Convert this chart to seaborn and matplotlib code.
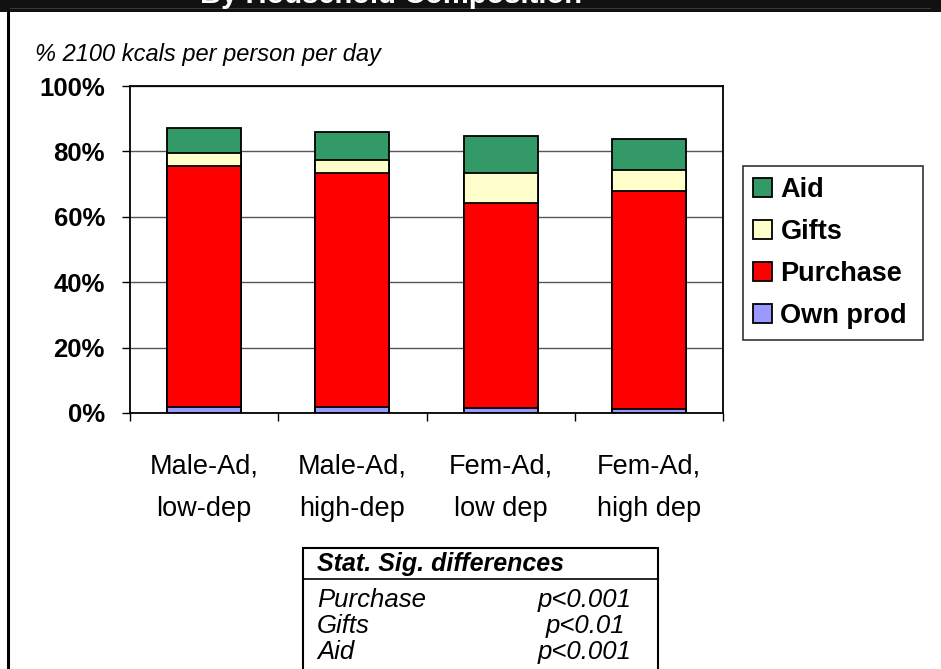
import numpy as np
import pandas as pd
import matplotlib
matplotlib.use('Agg')
import matplotlib.pyplot as plt
import seaborn as sns
from matplotlib.patches import Rectangle
from matplotlib.lines import Line2D

# 数据（从图中读取的估计值，单位 %）
groups = ['Male-Ad,\nlow-dep', 'Male-Ad,\nhigh-dep', 'Fem-Ad,\nlow dep', 'Fem-Ad,\nhigh dep']
own_prod = [1.9, 1.8, 1.4, 1.3]
purchase = [73.6, 71.5, 62.9, 66.6]
gifts = [4.1, 4.2, 9.1, 6.3]
aid = [7.7, 8.5, 11.2, 9.5]

series_names = ['Own prod', 'Purchase', 'Gifts', 'Aid']
series_colors = ['#9999FF', '#FF0000', '#FFFFCC', '#339966']
y_ticks = [0, 20, 40, 60, 80, 100]

sig_rows = ['Purchase', 'Gifts', 'Aid']
sig_p = ['p<0.001', 'p<0.01', 'p<0.001']

sns.set_style('white')
plt.rcParams['font.family'] = ['Liberation Sans', 'DejaVu Sans']
plt.rcParams['text.color'] = 'black'
plt.rcParams['xtick.color'] = 'black'
plt.rcParams['ytick.color'] = 'black'
plt.rcParams['axes.labelcolor'] = 'black'

W, H = 941, 669
def fx(x):
    return x / W
def fy(y):
    return 1 - y / H

fig = plt.figure(figsize=(W / 100, H / 100), dpi=100)
fig.patch.set_facecolor('white')
ax = fig.add_axes([fx(130), fy(413), (723 - 130) / W, (413 - 86) / H])

# 堆积柱：先画累计最高的，再依次往下覆盖
df = pd.DataFrame({'group': groups, 'Own prod': own_prod, 'Purchase': purchase,
                   'Gifts': gifts, 'Aid': aid})
cum = df[series_names].cumsum(axis=1)
for name, col in reversed(list(zip(series_names, series_colors))):
    sns.barplot(x=df['group'], y=cum[name], color=col, saturation=1, width=0.5,
                edgecolor='black', linewidth=1.3, errorbar=None, label=name, ax=ax)

handles, labels = ax.get_legend_handles_labels()
if ax.get_legend() is not None:
    ax.get_legend().remove()

ax.set_xlim(-0.5, len(groups) - 0.5)
ax.set_ylim(0, 100)
ax.set_xlabel('')
ax.set_ylabel('')
ax.set_yticks(y_ticks)
ax.set_yticklabels([f'{v}%' for v in y_ticks], fontsize=18.5, fontweight='bold')
ax.tick_params(axis='y', length=6, width=1, color='black', pad=12, left=True)
ax.set_xticks(range(len(groups)))
ax.set_xticklabels(groups, fontsize=19.5)
ax.set_xticks(np.arange(-0.5, len(groups)), minor=True)
ax.tick_params(axis='x', which='major', length=0, pad=29.5)
ax.tick_params(axis='x', which='minor', length=6, width=1, color='black', bottom=True)
for t in ax.get_xticklabels():
    t.set_linespacing(1.78)

ax.yaxis.grid(True, color='#555555', linewidth=1)
ax.set_axisbelow(True)
for s in ax.spines.values():
    s.set_visible(True)
    s.set_color('black')
    s.set_linewidth(1.3)

# 图例
leg = fig.legend(handles, labels, loc='center',
                 bbox_to_anchor=(fx(743), fy(339), 180 / W, 172 / H), mode='expand',
                 prop=dict(weight='bold', size=19.5), frameon=True, fancybox=False,
                 edgecolor='black', borderaxespad=0, handlelength=0.7, handleheight=0.7,
                 handletextpad=0.3, labelspacing=0.6, borderpad=0.38)
leg.get_frame().set_linewidth(1.2)

# 副标题
fig.text(fx(35), fy(55), '% 2100 kcals per person per day', fontsize=17,
         style='italic', va='center', ha='left')

# 顶部黑色标题栏（标题被截掉一部分）
fig.add_artist(Rectangle((0, fy(12)), 1, 12 / H, transform=fig.transFigure,
                         facecolor='#111111', edgecolor='none'))
fig.add_artist(Line2D([fx(10), fx(930)], [fy(7.5)] * 2, transform=fig.transFigure,
                      color='#3a3a3a', linewidth=0.7))
fig.text(fx(200), fy(3), 'By Household Composition', fontsize=21, fontweight='bold',
         color='white', ha='left', va='baseline')

# 左侧黑边
fig.add_artist(Line2D([fx(7.5)] * 2, [0, fy(12)], transform=fig.transFigure,
                      color='black', linewidth=2.2))

# 显著性表格
fig.add_artist(Rectangle((fx(303), -0.05), (658 - 303) / W, fy(548) + 0.05,
                         transform=fig.transFigure, fill=False, edgecolor='black',
                         linewidth=1.5))
fig.add_artist(Line2D([fx(303), fx(658)], [fy(579)] * 2, transform=fig.transFigure,
                      color='black', linewidth=1.2))
fig.text(fx(317), fy(564), 'Stat. Sig. differences', fontsize=18, fontweight='bold',
         style='italic', va='center', ha='left')
for i, (r, p) in enumerate(zip(sig_rows, sig_p)):
    y = 600 + 26 * i
    fig.text(fx(317), fy(y), r, fontsize=18.5, style='italic', va='center', ha='left')
    fig.text(fx(585), fy(y), p, fontsize=18.5, style='italic', va='center', ha='center')

fig.savefig('out.png', dpi=100)
